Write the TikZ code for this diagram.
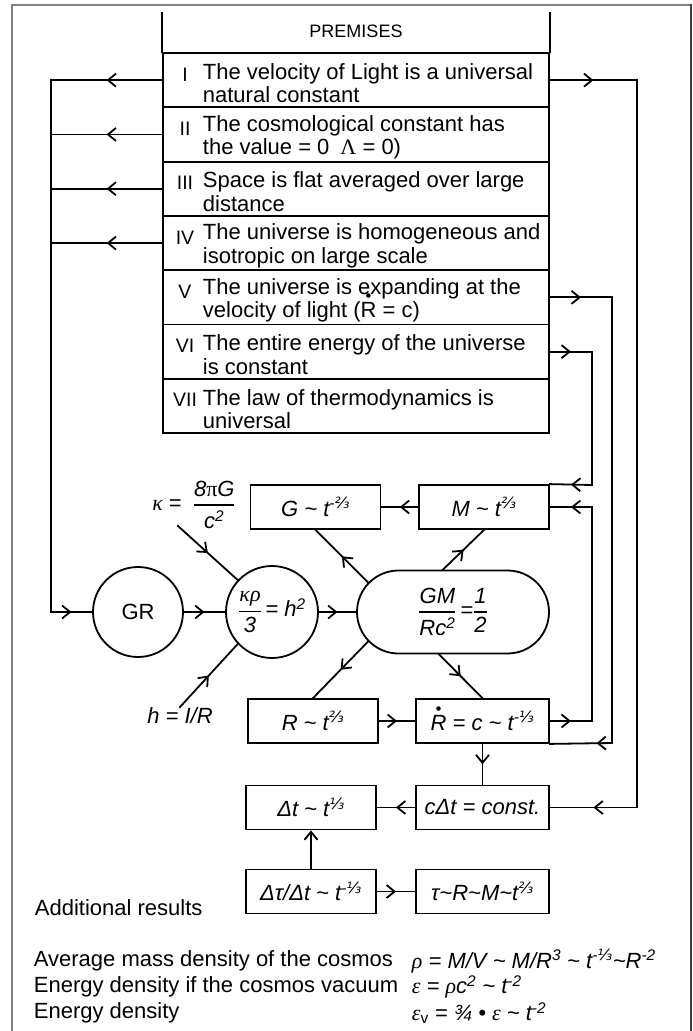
\documentclass[tikz,border=0pt]{standalone}
\usepackage{amsmath}
\usepackage{fontspec}
\setmainfont{Liberation Sans}
\newfontfamily\grk{Liberation Serif}
\newfontfamily\djv{DejaVu Sans}
\usetikzlibrary{calc, shapes.misc, arrows.meta, decorations.markings}
\newcommand\tl{\textasciitilde}
\newcommand\ex[1]{\textsuperscript{#1}}
\newcommand\third{{\djv ⅓}}
\newcommand\thirds{{\djv ⅔}}
\newcommand\Rdot{\ooalign{R\cr\hidewidth\raisebox{.74em}{\scalebox{.75}{•}}\hidewidth\cr}}
\newcommand\fracbar[2]{$\genfrac{}{}{1.5pt}{0}{\text{#1}}{\text{#2}}$}

\begin{document}
\begin{tikzpicture}[x=1pt, y=-1pt, line width=1.8pt, line cap=rect,
  every node/.style={inner sep=0pt, font=\fontsize{22}{23.5}\selectfont},
  box/.style={draw, minimum width=130pt, minimum height=44pt, font=\fontsize{22}{23.5}\selectfont\itshape},
  row/.style={draw, minimum width=386pt, minimum height=54.3pt},
  mid/.style={postaction={decorate, decoration={markings,
      mark=at position #1 with {\arrow{Straight Barb[length=8pt, width=13pt]}}}}},
  mid/.default=0.5]
  \useasboundingbox (0,0) rectangle (693,1031);
  % frame
  \draw[gray, line width=1.5pt] (12,1031) -- (12,5) -- (691,5);
  \draw[black!75, line width=1.5pt] (691,5) -- (691,1031);

  % premises
  \foreach \k/\rn/\la/\lb in {1/I/The velocity of Light is a universal/natural constant,
      2/II/The cosmological constant has/{the value = 0\enspace{\grk Λ} = 0)},
      3/III/Space is flat averaged over large/distance,
      4/IV/The universe is homogeneous and/isotropic on large scale,
      5/V/The universe is expanding at the/{velocity of light (\Rdot\ = c)},
      6/VI/The entire energy of the universe/is constant,
      7/VII/The law of thermodynamics is/universal} {
    \pgfmathsetmacro\c{53+54.3*(\k-0.5)}
    \node[row] (p\k) at (356,\c) {};
    \node[anchor=base, font=\fontsize{19.5}{19.5}\selectfont] (n\k) at (185,\c+1) {\rn};
    \node[anchor=west, align=left] (t\k) at (202,\c+3) {\la\\\lb};
  }
  \node (hd) at (356,31) {\fontsize{18}{20}\selectfont PREMISES};
  \draw (p1.north west) -- +(0,-39);
  \draw (p1.north east) -- +(0,-39);

  % diagram
  \node[draw, circle, minimum size=90pt] (gr) at (138,612) {GR};
  \node[draw, circle, minimum size=92pt] (kr) at (272,612)
    {\fracbar{\grk\itshape κρ}{\itshape 3}\,\textit{= h\ex{2}}};
  \node[draw, rounded rectangle, minimum width=192pt, minimum height=83pt] (gm) at (453,612)
    {\fracbar{\itshape GM}{\itshape Rc\ex{2}}\,\textit{=}\fracbar{\itshape 1}{\itshape 2}};
  \node[box] (g) at (315.5,507) {G \tl\ t\ex{-\thirds}};
  \node[box] (m) at (484,507) {M \tl\ t\ex{\thirds}};
  \node[box] (r) at (313,721) {R \tl\ t\ex{\thirds}};
  \node[box, minimum width=133pt] (rdot) at (482.5,721) {\Rdot\ = c \tl\ t\ex{-\third}};
  \node[box] (dt) at (311,807.5) {Δt \tl\ t\ex{\third}};
  \node[box, minimum width=133pt] (cdt) at (482.5,807.5) {cΔt = const.};
  \node[box] (dtau) at (311,891.5) {Δτ/Δt \tl\ t\ex{-\third}};
  \node[box, minimum width=133pt] (tau) at (482.5,891.5) {τ\tl R\tl M\tl t\ex{\thirds}};
  \node (kap) at (194,505) {{\grk\itshape κ} =\enspace\fracbar{\itshape 8{\grk\upshape π}G}{\itshape c\ex{2}}};
  \node (hl) at (180,716) {\textit{h = I/R}};

  \coordinate (lft) at (51,612);
  \coordinate (ra) at (637,807.5);
  \coordinate (rb) at (612,743);
  \coordinate (rc) at (592,485);
  \coordinate (rd) at (592,507);
  \coordinate (kin) at (178,526);
  \coordinate (a1) at ($(gm.west)+(41.5,0)+(225:41.5)$);
  \coordinate (a2) at ($(gm.west)+(41.5,0)+(135:41.5)$);
  \coordinate (a3) at ($(gm.north)+(-10,0)$);
  \coordinate (a4) at ($(gm.south)+(-14,0)$);

  % feedback from the premises
  \foreach \k in {1,...,4} \draw[mid] (p\k.west) -- (p\k.west -| lft);
  \draw (p1.west -| lft) -- (lft);
  \draw[mid] (lft) -- (gr);
  \draw[mid] (p1.east) -- (p1.east -| ra);
  \draw (p1.east -| ra) -- (ra);
  \draw[mid] (ra) -- (cdt);
  \draw[mid] (p5.east) -- (p5.east -| rb);
  \draw (p5.east -| rb) -- (rb);
  \draw[mid=0.25] (rb) -- (rdot.south east);
  \draw[mid] (p6.east) -- (p6.east -| rc);
  \draw (p6.east -| rc) -- (rc);
  \draw[mid] (rc) -- (m.north east);
  \draw[mid] (rdot) -- (rdot -| rd);
  \draw (rdot -| rd) -- (rd);
  \draw[mid] (rd) -- (m);

  % links
  \draw[mid] (gr) -- (kr);
  \draw[mid] (kr) -- (gm);
  \draw[mid] (kin) -- (kr.137);
  \draw[mid] (hl.north) -- (kr.223);
  \draw[mid] (a1) -- (g.south);
  \draw[mid] (a2) -- (r.north);
  \draw[mid] (a3) -- (m.south);
  \draw[mid] (a4) -- (rdot.north);
  \draw[mid] (m) -- (g);
  \draw[mid] (r) -- (rdot);
  \draw[mid] (rdot) -- (cdt);
  \draw[mid] (cdt) -- (dt);
  \draw[-{Straight Barb[length=8pt, width=13pt]}] (dtau) -- (dt);
  \draw[mid] (dtau) -- (tau);

  % additional results
  \node[anchor=west] (add) at (34,908) {Additional results};
  \node[anchor=west] (l1) at (33,961) {Average mass density of the cosmos};
  \node[anchor=west] (l2) at (33,987) {Energy density if the cosmos vacuum};
  \node[anchor=west] (l3) at (33,1013) {Energy density};
  \node[anchor=west] (f1) at (411,961) {{\grk\itshape ρ} \textit{= M/V \tl\ M/R\ex{3} \tl\ t\ex{-\third}\tl R\ex{-2}}};
  \node[anchor=west] (f2) at (411,987) {{\grk\itshape ε} \textit{= {\grk ρ}c\ex{2} \tl\ t\ex{-2}}};
  \node[anchor=west] (f3) at (411,1013) {{\grk\itshape ε}\textsubscript{v} \textit{= ¾ • {\grk ε} \tl\ t\ex{-2}}};
\end{tikzpicture}
\end{document}
